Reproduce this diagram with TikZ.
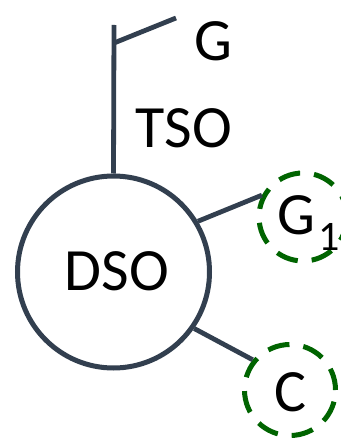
\documentclass[tikz,border=0pt]{standalone}
\usepackage{fontspec}
\setmainfont{Carlito}
\definecolor{slate}{RGB}{50,63,79}
\definecolor{dgreen}{RGB}{0,100,0}
\begin{document}
\begin{tikzpicture}[x=1pt,y=-1pt,
  conn/.style={draw=slate,line width=4.8pt},
  bigcirc/.style={circle,draw=slate,line width=5pt,minimum size=192pt,inner sep=0pt},
  dashcirc/.style={circle,draw=dgreen,line width=5pt,dash pattern=on 22pt off 14pt,inner sep=0pt},
  lbl/.style={font=\fontsize{60}{72}\selectfont,inner sep=0pt,text=black}]
\useasboundingbox (0,0) rectangle (340,438);
\node[bigcirc] (dso) at (113.5,272) {};
\node[lbl] (dsot) at (117,271) {DSO};
\node[dashcirc,minimum size=88pt] (g1) at (303,217) {};
\node[dashcirc,minimum size=91pt] (c) at (290,390) {};
\node[lbl,anchor=base west] (g1t) at (277,234) {G\kern3pt\raisebox{-16pt}{\fontsize{42}{42}\selectfont 1}};
\node[lbl] (ct) at (290,392) {C};
\node[lbl] (tso) at (184,128) {TSO};
\node[lbl] (gt) at (213,41) {G};
\coordinate (top) at (114,25);
\coordinate (tickbase) at (114,43);
\coordinate (tickend) at (176,18);
\draw[conn] (dso.north) -- (top);
\draw[conn] (tickbase) -- (tickend);
\draw[conn] (dso.31) -- (g1.152);
\draw[conn] (dso.-35) -- (c.141);
\end{tikzpicture}
\end{document}
